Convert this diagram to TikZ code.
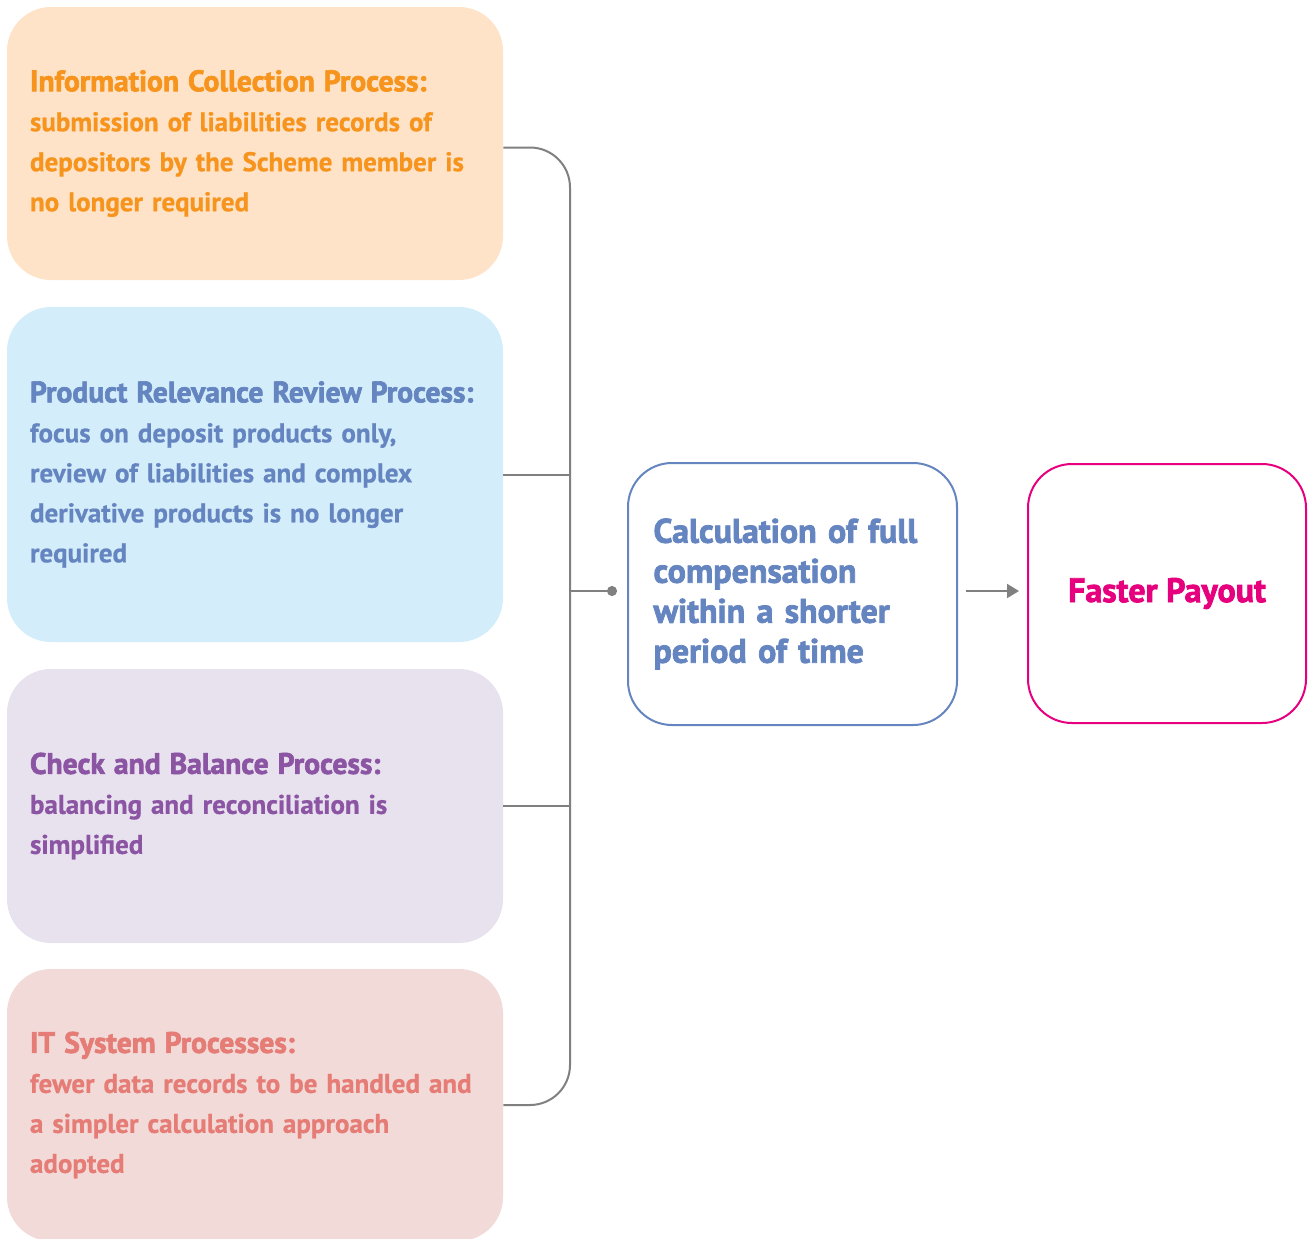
\documentclass[tikz,border=0pt]{standalone}
\usepackage{fontspec}
\setmainfont{PT Sans}[BoldFeatures={FakeBold=0.6}]
\newfontfamily\headfont{PT Sans}[BoldFeatures={FakeBold=2.2}]
\usepackage{xcolor}
\usetikzlibrary{arrows.meta,positioning}
\definecolor{infoTxt}{HTML}{F7941D}
\definecolor{infoBg}{HTML}{FEE3C8}
\definecolor{prodTxt}{HTML}{6585C1}
\definecolor{prodBg}{HTML}{D4EDFA}
\definecolor{checkTxt}{HTML}{8B55A3}
\definecolor{checkBg}{HTML}{E8E1EE}
\definecolor{itTxt}{HTML}{E57C76}
\definecolor{itBg}{HTML}{F2DAD8}
\definecolor{payTxt}{HTML}{E6007E}
\definecolor{linkGray}{HTML}{808080}
\newcommand{\proctitle}[1]{{\headfont\fontsize{14.8}{20}\selectfont #1}}

\begin{document}
\begin{tikzpicture}[x=0.5pt, y=-0.5pt, proc/.style={rounded corners=22pt, align=left, minimum width=248pt, inner xsep=11.5pt, text width=225pt, font=\bfseries\fontsize{13.5}{20}\selectfont}, result/.style={draw, line width=1pt, rounded corners=22pt, fill=white, font=\headfont\bfseries\fontsize{17}{20}\selectfont}, link/.style={draw=linkGray, line width=1pt}]
\useasboundingbox (0,0) rectangle (1313,1238);
\node[proc, fill=infoBg, text=infoTxt, minimum height=136.5pt] (info) at (255,143.5) {\proctitle{Information Collection Process:}\\submission of liabilities records of\\depositors by the Scheme member is\\no longer required};
\node[proc, fill=prodBg, text=prodTxt, minimum height=167.5pt] (prod) at (255,474.5) {\proctitle{Product Relevance Review Process:}\\focus on deposit products only,\\review of liabilities and complex\\derivative products is no longer\\required};
\node[proc, fill=checkBg, text=checkTxt, minimum height=137pt] (check) at (255,806) {\proctitle{Check and Balance Process:}\\balancing and reconciliation is\\simplified};
\node[proc, fill=itBg, text=itTxt, minimum height=136pt] (it) at (255,1105) {\proctitle{IT System Processes:}\\fewer data records to be handled and\\a simpler calculation approach\\adopted};
\node[result, draw=prodTxt, text=prodTxt, align=left, minimum width=164.5pt, minimum height=131pt, inner xsep=12.5pt, text width=139pt] (calc) at (792.5,594) {Calculation of full\\compensation\\within a shorter\\period of time};
\node[result, draw=payTxt, text=payTxt, minimum width=139pt, minimum height=129.5pt] (payout) at (1167,593.5) {Faster Payout};
% bracket joining the four processes
\coordinate (trunk) at (570,591);
\draw[link, rounded corners=20pt] ([yshift=-2pt]info.east) -| (trunk) |- (it.east);
\draw[link] (prod.east) -- (prod.east -| trunk);
\draw[link] (check.east) -- (check.east -| trunk);
\draw[link, -{Circle[length=5pt]}] (trunk) -- ([xshift=-5pt]trunk -| calc.west);
\draw[link, -{Triangle[length=6pt,width=7pt]}] ([xshift=4pt]trunk -| calc.east) -- ([xshift=-4pt]trunk -| payout.west);
\end{tikzpicture}
\end{document}
